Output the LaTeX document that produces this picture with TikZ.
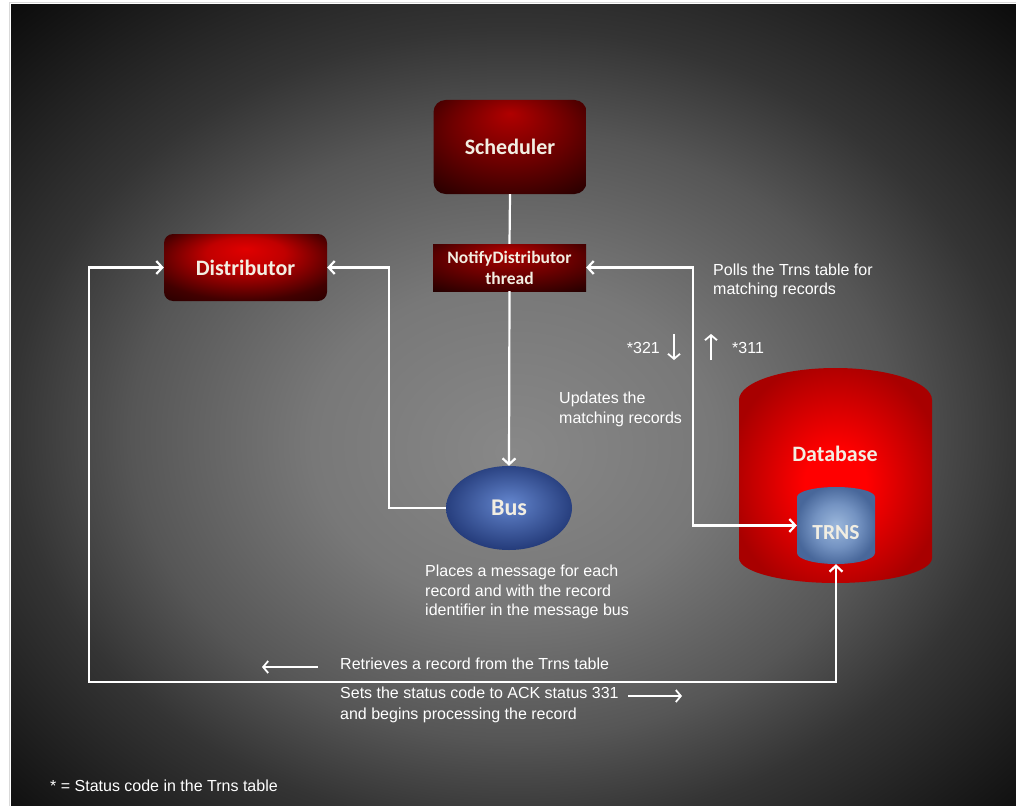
\documentclass[tikz,border=0pt]{standalone}
\usepackage{fontspec}
\setmainfont{Liberation Sans}
\newfontfamily\labfont{Carlito}
\usetikzlibrary{arrows.meta,shapes.geometric}
\definecolor{bgA}{HTML}{888888}
\definecolor{bgB}{HTML}{787878}
\definecolor{bgC}{HTML}{565656}
\definecolor{bgD}{HTML}{343434}
\definecolor{bgE}{HTML}{080808}
\definecolor{schA}{HTML}{B00000}
\definecolor{schM}{HTML}{6A0000}
\definecolor{schB}{HTML}{100000}
\definecolor{disA}{HTML}{E00000}
\definecolor{disM}{HTML}{C00000}
\definecolor{disN}{HTML}{420000}
\definecolor{disB}{HTML}{1C0000}
\definecolor{dbA}{HTML}{FF0000}
\definecolor{dbB}{HTML}{A80000}
\definecolor{trA}{HTML}{9CB8DC}
\definecolor{trM}{HTML}{7493C2}
\definecolor{trB}{HTML}{48679A}
\definecolor{busA}{HTML}{6385CD}
\definecolor{busB}{HTML}{1E3472}
\definecolor{labcol}{HTML}{F2EEE2}
% TikZ maps the middle 50bp x 50bp of a shading onto the path's bounding box
\pgfdeclareradialshading{bgshade}{\pgfpoint{0bp}{-3bp}}{color(0bp)=(bgA); color(10bp)=(bgB); color(19bp)=(bgC); color(25bp)=(bgD); color(37bp)=(bgE); color(50bp)=(bgE)}
\pgfdeclareradialshading{schshade}{\pgfpoint{0bp}{18bp}}{color(0bp)=(schA); color(20bp)=(schM); color(44bp)=(schB); color(50bp)=(schB)}
\pgfdeclareradialshading{disshade}{\pgfpoint{0bp}{14bp}}{color(0bp)=(disA); color(12bp)=(disM); color(30bp)=(disN); color(42bp)=(disB); color(50bp)=(disB)}
\pgfdeclareradialshading{dbshade}{\pgfpoint{0bp}{-2bp}}{color(0bp)=(dbA); color(8bp)=(dbA); color(28bp)=(dbB); color(50bp)=(dbB)}
\pgfdeclareradialshading{trshade}{\pgfpoint{0bp}{0bp}}{color(0bp)=(trA); color(14bp)=(trM); color(26bp)=(trB); color(50bp)=(trB)}
\pgfdeclareradialshading{busshade}{\pgfpoint{0bp}{3bp}}{color(0bp)=(busA); color(29bp)=(busB); color(50bp)=(busB)}
\tikzset{
  conn/.style={draw=white, line width=2.2pt},
  tip/.tip={Straight Barb[length=6pt,width=13pt,line width=2.2pt]},
  smalltip/.tip={Straight Barb[length=5pt,width=12pt,line width=1.8pt]},
  lab/.style={text=labcol, font=\labfont\bfseries\fontsize{22}{26}\selectfont, inner sep=0pt},
  txt/.style={text=white, font=\fontsize{16}{19.5}\selectfont, inner sep=0pt, align=left},
  redbox/.style={shading=schshade, draw=none, inner sep=0pt, text=labcol, font=\labfont\bfseries\fontsize{22}{26}\selectfont},
}
\begin{document}
\begin{tikzpicture}[x=1pt,y=1pt]
\useasboundingbox (0,0) rectangle (1016,-805);
\fill[white] (0,0) rectangle (1016,-805);
\draw[draw=black!15, line width=1.5pt] (9.5,-2.5) rectangle (1020,-810);
\shade[shading=bgshade] (11,-5) rectangle (1016,-805);

% nodes
\node[redbox, rounded corners=12pt, minimum width=153pt, minimum height=94pt] (sched) at (510,-147) {Scheduler};
\node[redbox, minimum width=153pt, minimum height=47pt, align=center, font=\labfont\bfseries\fontsize{17.5}{21}\selectfont] (notify) at (509.5,-267.5) {NotifyDistributor\\thread};
\node[redbox, shading=disshade, rounded corners=9pt, minimum width=163pt, minimum height=67pt] (dist) at (245.5,-267.5) {Distributor};
\node[ellipse, shading=busshade, minimum width=126pt, minimum height=84pt, inner sep=0pt, text=labcol, font=\labfont\bfseries\fontsize{24}{28}\selectfont] (bus) at (509,-508) {Bus};

% database cylinder
\node[minimum width=193pt, minimum height=215pt, inner sep=0pt] (db) at (835.5,-475.5) {};
\shade[shading=dbshade] (739,-400) arc[start angle=180,end angle=0,x radius=96.5pt,y radius=32pt] -- (932,-558) arc[start angle=0,end angle=-180,x radius=96.5pt,y radius=25pt] -- cycle;
\node[lab] (dblab) at (835,-454) {Database};

% TRNS cylinder
\node[minimum width=78pt, minimum height=77pt, inner sep=0pt] (trns) at (836,-525.5) {};
\shade[shading=trshade] (797,-497) arc[start angle=180,end angle=0,x radius=39pt,y radius=10pt] -- (875,-553) arc[start angle=0,end angle=-180,x radius=39pt,y radius=11pt] -- cycle;
\node[lab, font=\labfont\bfseries\fontsize{21.5}{25}\selectfont] (trnslab) at (836,-533) {TRNS};

% connectors
\draw[conn] (sched.south) -- (notify.north);
\draw[conn, -tip] (notify.south) -- (bus.north);
\draw[conn, -tip] (bus.west) -- ++(-57,0) |- (dist.east);
\coordinate (cl) at (89,-682);
\draw[conn, tip-tip] (dist.west) -| (cl) -| (trns.south);
\draw[conn, tip-tip] (notify.east) -- ++(106.5,0) |- (trns.west);

% small arrows
\coordinate (d1) at (674,-334);
\coordinate (d2) at (674,-360);
\coordinate (u1) at (711,-360);
\coordinate (u2) at (711,-334);
\draw[conn, line width=1.8pt, -smalltip] (d1) -- (d2);
\draw[conn, line width=1.8pt, -smalltip] (u1) -- (u2);
\coordinate (l1) at (318,-667);
\coordinate (l2) at (262,-667);
\coordinate (r1) at (628,-696);
\coordinate (r2) at (682,-696);
\draw[conn, line width=1.8pt, -smalltip] (l1) -- (l2);
\draw[conn, line width=1.8pt, -smalltip] (r1) -- (r2);

% texts
\node[txt, anchor=west] (polls) at (713,-281) {Polls the Trns table for\\matching records};
\node[txt, anchor=east] (s321) at (660,-347.5) {*321};
\node[txt, anchor=west] (s311) at (732,-347.5) {*311};
\node[txt, anchor=west] (upd) at (559,-409.5) {Updates the\\matching records};
\node[txt, anchor=west] (places) at (425,-592) {Places a message for each\\record and with the record\\identifier in the message bus};
\node[txt, anchor=west] (retr) at (340,-663.5) {Retrieves a record from the Trns table};
\node[txt, anchor=west, font=\fontsize{16}{21}\selectfont] (sets) at (340,-705) {Sets the status code to ACK status 331\\and begins processing the record};
\node[txt, anchor=west] (foot) at (50,-786) {* = Status code in the Trns table};
\end{tikzpicture}
\end{document}
